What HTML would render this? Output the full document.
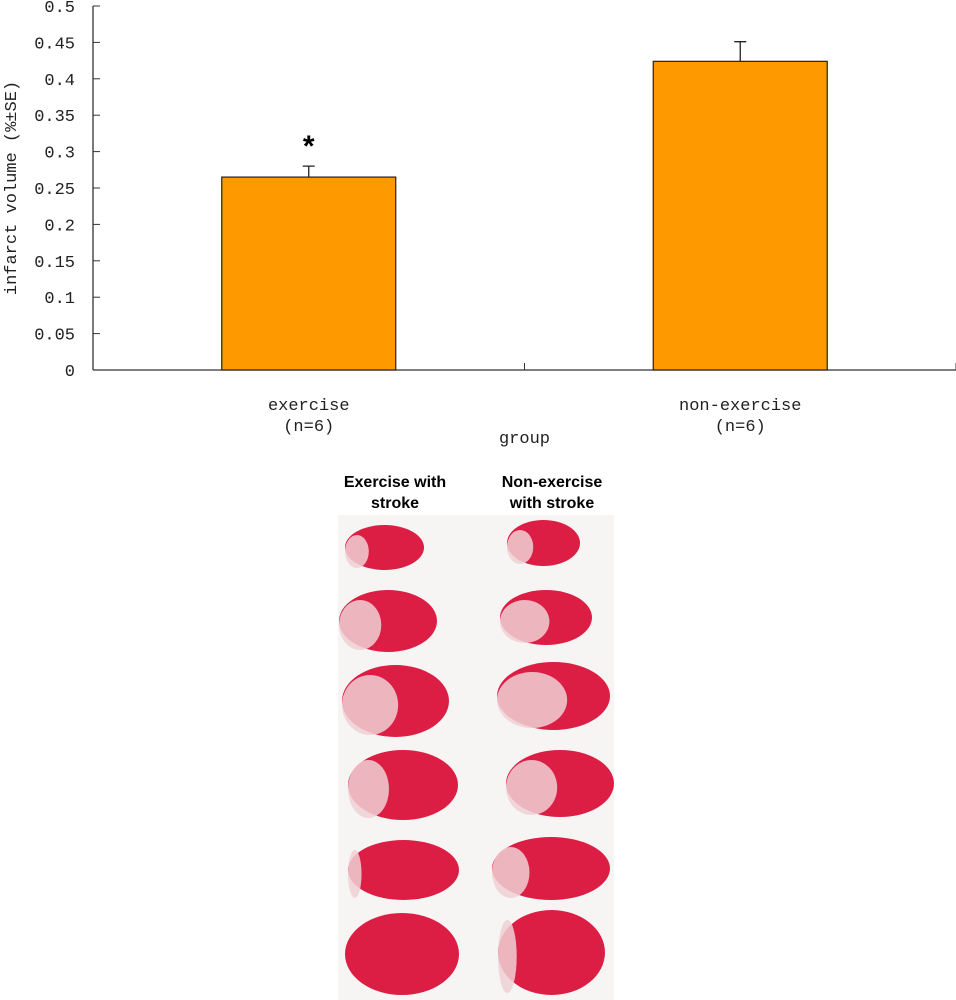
<!DOCTYPE html>
<html><head><meta charset="utf-8"><style>
body{margin:0;background:#fff;width:956px;height:1000px;overflow:hidden}
svg{display:block}
.t{font-family:"Liberation Mono","Noto Sans CJK SC",monospace;font-size:17px;fill:#222}
.b{font-family:"Liberation Sans",sans-serif;font-weight:bold;font-size:16px;fill:#000}
</style></head><body>
<svg id="chart" width="956" height="1000">
<g id="axes"></g><g id="bars"></g>
<g>
<rect x="338" y="515" width="276" height="485" fill="#f6f5f4"/>
<g id="slices"></g>
</g>
<text class="b" x="395" y="487" text-anchor="middle">Exercise with</text>
<text class="b" x="395" y="508" text-anchor="middle">stroke</text>
<text class="b" x="552" y="487" text-anchor="middle">Non-exercise</text>
<text class="b" x="552" y="508" text-anchor="middle">with stroke</text>
</svg>
<script>
const categories=["exercise","non-exercise"];
const counts=["(n=6)","(n=6)"];
const values=[0.265,0.424];
const errors=[0.015,0.027];
const yTicks=[0,0.05,0.1,0.15,0.2,0.25,0.3,0.35,0.4,0.45,0.5];
const tickLabels=["0","0.05","0.1","0.15","0.2","0.25","0.3","0.35","0.4","0.45","0.5"];
const NS="http://www.w3.org/2000/svg";
const x0=93,x1=956,y0=370,ytop=6;
const y=v=>y0-(v/0.5)*(y0-ytop);
const bandW=(x1-x0)/categories.length;
const bx=i=>x0+bandW*i+bandW/2;
function mk(p,tag,a){const e=document.createElementNS(NS,tag);for(const k in a)e.setAttribute(k,a[k]);p.appendChild(e);return e;}
const ax=document.getElementById('axes'),bars=document.getElementById('bars');
let l=mk(ax,'line',{x1:x0,y1:ytop,x2:x0,y2:y0,stroke:'#333','stroke-width':1.3});


l=mk(ax,'line',{x1:x0,y1:y0,x2:x1,y2:y0,stroke:'#333','stroke-width':1.3});


yTicks.forEach((v,i)=>{
 const tk=mk(ax,'line',{x1:x0,y1:y(v),x2:x0+7,y2:y(v),stroke:'#333'});
 
 
 const t=mk(ax,'text',{x:75,y:y(v)+6,'text-anchor':'end',class:'t'});t.textContent=tickLabels[i];
 
 
});
for(let i=0;i<=categories.length;i++){
 const tk=mk(ax,'line',{x1:x0+bandW*i,y1:y0,x2:x0+bandW*i,y2:y0-7,stroke:'#333'});
 
 
}
const yt=mk(ax,'text',{x:0,y:0,class:'t','text-anchor':'middle',transform:'translate(16,188) rotate(-90)'});
yt.textContent='infarct volume (%±SE)';


const xt=mk(ax,'text',{x:bx(0.5),y:443,class:'t','text-anchor':'middle'});xt.textContent='group';


const w=174;
categories.forEach((c,i)=>{
 const cx=bx(i);
 const r=mk(bars,'rect',{x:cx-w/2,y:y(values[i]),width:w,height:y0-y(values[i]),fill:'#ff9900',stroke:'#222','stroke-width':1.2});
 
 
 const e=mk(bars,'path',{d:`M${cx} ${y(values[i])} V${y(values[i]+errors[i])} M${cx-6} ${y(values[i]+errors[i])} H${cx+6}`,stroke:'#222',fill:'none','stroke-width':1.3});
 
 
 const t1=mk(bars,'text',{x:cx,y:410,class:'t','text-anchor':'middle'});t1.textContent=c;
 
 
 const t2=mk(bars,'text',{x:cx,y:431,class:'t','text-anchor':'middle'});t2.textContent=counts[i];
 
 
});
const st=mk(bars,'text',{x:bx(0),y:y(values[0]+errors[0])-10,'text-anchor':'middle',style:'font-family:"Liberation Sans",sans-serif;font-weight:bold;font-size:30px;fill:#000'});st.textContent='*';


const sl=document.getElementById('slices');
const boxes=[[345,424,525,570],[339,437,590,652],[342,449,665,737],[348,458,750,820],[348,459,840,900],[345,459,913,995],
[507,580,520,566],[500,592,590,645],[497,610,662,730],[506,614,750,817],[492,610,837,900],[498,605,910,995]];
const pale=[0.2,0.35,0.45,0.3,0.05,0,0.25,0.45,0.55,0.4,0.25,0.1];
boxes.forEach((b,i)=>{
 const g=mk(sl,'ellipse',{cx:(b[0]+b[1])/2,cy:(b[2]+b[3])/2,rx:(b[1]-b[0])/2,ry:(b[3]-b[2])/2,fill:'#dc1e45'});
 
 
 if(pale[i]>0){const rw=(b[1]-b[0])*pale[i];
  const p=mk(sl,'ellipse',{cx:b[0]+rw/2+4,cy:(b[2]+b[3])/2+4,rx:rw/2+4,ry:(b[3]-b[2])/2-6,fill:'#f0d0d4',opacity:0.85});
  
  }
});
</script>
</body></html>
